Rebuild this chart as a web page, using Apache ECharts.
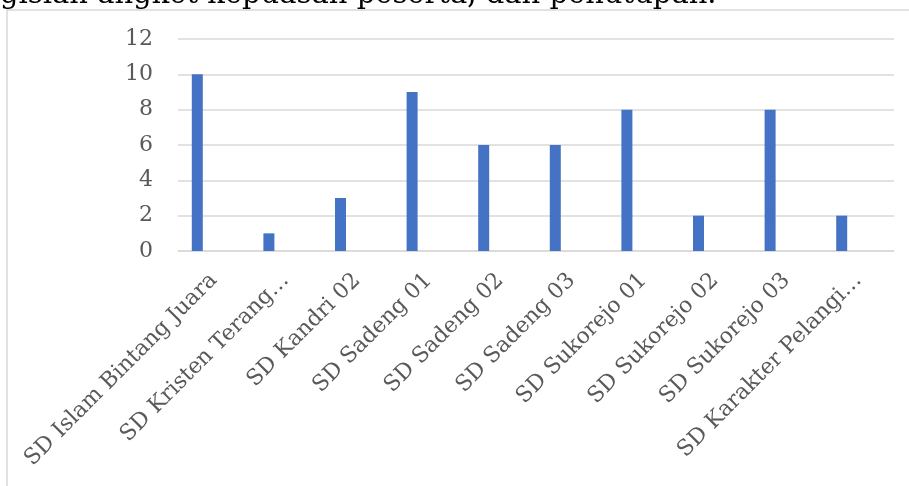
<!DOCTYPE html>
<html>
<head>
<meta charset="utf-8">
<script src="https://cdn.jsdelivr.net/npm/echarts@6/dist/echarts.min.js"></script>
<style>
  html, body { margin: 0; padding: 0; background: #fff; }
  #chart { width: 909px; height: 486px; }
</style>
</head>
<body>
<div id="chart"></div>
<script>
const categories = [
  'SD Islam Bintang Juara', 'SD Kristen Terang…', 'SD Kandri 02', 'SD Sadeng 01',
  'SD Sadeng 02', 'SD Sadeng 03', 'SD Sukorejo 01', 'SD Sukorejo 02',
  'SD Sukorejo 03', 'SD Karakter Pelangi…'
];
const values = [10, 1, 3, 9, 6, 6, 8, 2, 8, 2];
// the workbook has empty sibling series, they only take up room next to the bar
const emptySeries = ['s2', 's3', 's4'];
const yTicks = { min: 0, max: 12, interval: 2 };
const topLine = 'gisian angket kepuasan peserta, dan penutupan.';

const font = '"DejaVu Serif", "Liberation Serif", serif';
const chart = echarts.init(document.getElementById('chart'));
chart.setOption({
  animation: false,
  graphic: [
    {
      type: 'rect',
      shape: { x: 7, y: 10, width: 1000, height: 1000 },
      style: { fill: 'none', stroke: '#d9d9d9', lineWidth: 1.5 }
    },
    {
      type: 'text',
      x: 0, y: 10,
      style: { text: topLine, font: '29px ' + font, fill: '#000', verticalAlign: 'bottom' }
    }
  ],
  grid: { left: 178, right: 15, top: 39, bottom: 235 },
  xAxis: {
    type: 'category',
    data: categories,
    axisTick: { show: false },
    axisLine: { lineStyle: { color: '#d9d9d9', width: 1.5 } },
    axisLabel: {
      interval: 0, rotate: 45, margin: 26,
      color: '#595959', fontFamily: font, fontSize: 22
    }
  },
  yAxis: {
    type: 'value',
    min: yTicks.min, max: yTicks.max, interval: yTicks.interval,
    axisLine: { show: false },
    axisTick: { show: false },
    axisLabel: { margin: 25, color: '#595959', fontFamily: font, fontSize: 22 },
    splitLine: { lineStyle: { color: '#d9d9d9', width: 1.5 } }
  },
  series: [
    { type: 'bar', data: values, barWidth: 11, barGap: '0%', itemStyle: { color: '#4472c4' } }
  ].concat(emptySeries.map(n => ({ type: 'bar', name: n, data: [], barWidth: 11, barGap: '0%' })))
});
</script>
</body>
</html>
